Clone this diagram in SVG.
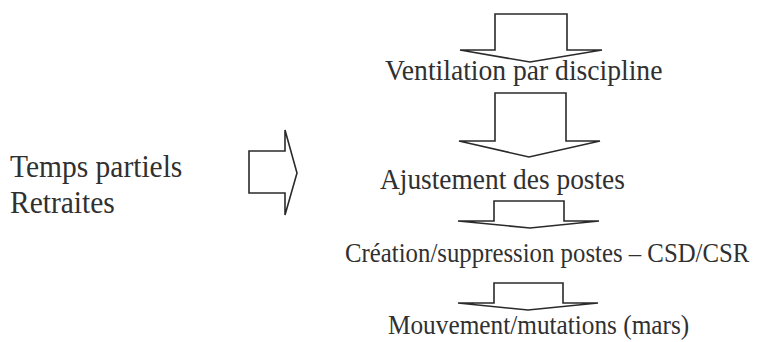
<svg xmlns="http://www.w3.org/2000/svg" width="764" height="342" viewBox="0 0 764 342">
<style>
.bg{fill:#ffffff}
.arr{fill:#ffffff;stroke:#2a2a2a;stroke-width:1.6;stroke-linejoin:miter}
.t{font-family:"Liberation Serif","Times New Roman",serif;fill:#303030}
</style>
<rect class="bg" x="0" y="0" width="764" height="342"/>
<g id="connectors">
<polygon class="arr" points="495,14 567,14 567,50 602,50 530,62 460,50 495,50"/>
<polygon class="arr" points="495,93 566,93 566,141 600,141 529,157 459,141 495,141"/>
<polygon class="arr" points="494,201 564,201 564,221 599,221 530,228 458,221 494,221"/>
<polygon class="arr" points="494,283 563,283 563,303 598,303 528,310 458,303 494,303"/>
<polygon class="arr" points="249,151 285,151 285,130 297,173 285,215 285,193 249,193"/>
</g>
<g id="node-inputs">
<text class="t" transform="translate(10,177) scale(1,1.04)" font-size="29.5">Temps partiels</text>
<text class="t" transform="translate(10,213) scale(1,1.04)" font-size="29.5">Retraites</text>
</g>
<g id="node-ventilation">
<text class="t" transform="translate(385,80) scale(1,1.08)" font-size="27.6">Ventilation par discipline</text>
</g>
<g id="node-ajustement">
<text class="t" transform="translate(380,189) scale(1,1.08)" font-size="27.4">Ajustement des postes</text>
</g>
<g id="node-creation">
<text class="t" transform="translate(345,262) scale(1,1.12)" font-size="24.8">Création/suppression postes – CSD/CSR</text>
</g>
<g id="node-mouvement">
<text class="t" transform="translate(388,334) scale(1,1.1)" font-size="25.3">Mouvement/mutations (mars)</text>
</g>
</svg>
